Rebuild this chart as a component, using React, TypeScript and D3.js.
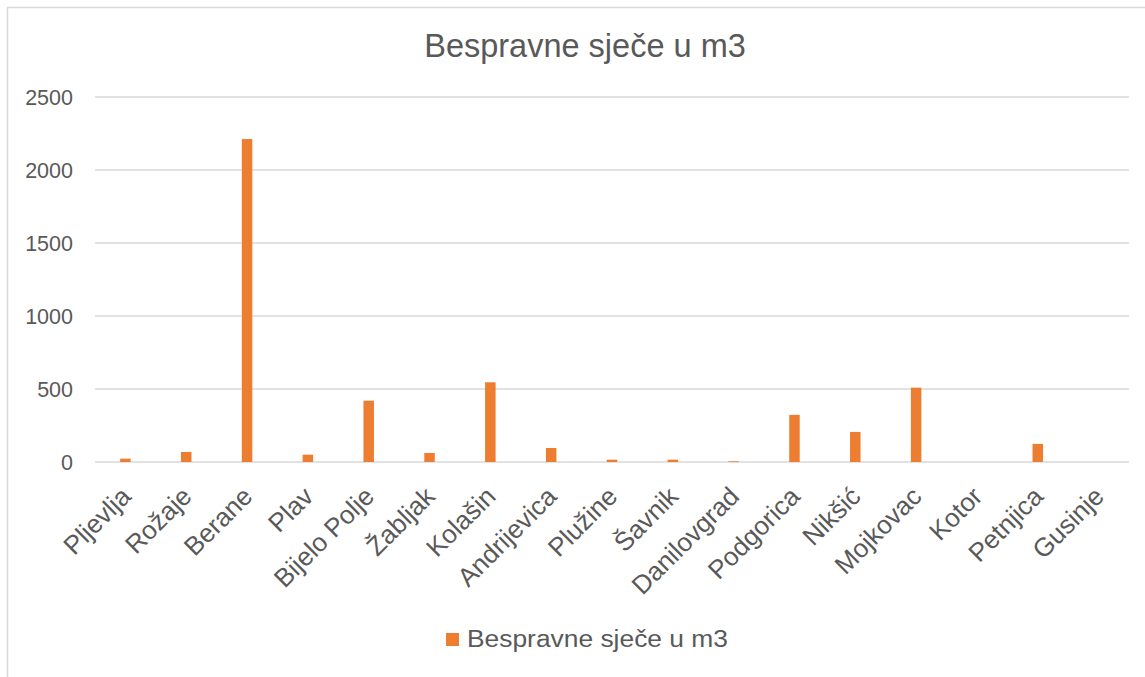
import React from "react";
import * as d3 from "d3";

const categories = [
  "Pljevlja", "Rožaje", "Berane", "Plav", "Bijelo Polje", "Žabljak", "Kolašin",
  "Andrijevica", "Plužine", "Šavnik", "Danilovgrad", "Podgorica", "Nikšić",
  "Mojkovac", "Kotor", "Petnjica", "Gusinje",
];
const values = [23, 69, 2212, 50, 420, 62, 546, 96, 16, 16, 5, 323, 206, 509, 0, 124, 0];
const yTicks = [0, 500, 1000, 1500, 2000, 2500];
const seriesName = "Bespravne sječe u m3";
const title = "Bespravne sječe u m3";

const W = 1145;
const H = 677;
const FONT = "'Liberation Sans', Arial, sans-serif";
const TEXT = "#595959";
const GRID = "#d9d9d9";
const ORANGE = "#ED7D31";

export default function App() {
  const x = d3.scaleBand<string>().domain(categories).range([95, 1129]);
  const y = d3.scaleLinear().domain([0, 2500]).range([462, 97]);
  const bw = 10.5;

  return (
    <svg
      width={W}
      height={H}
      style={{ position: "absolute", left: 0, top: 0, background: "#fff" }}
      fontFamily={FONT}
    >
      <rect x={7.5} y={7.5} width={1170} height={700} fill="#fff" stroke={GRID} strokeWidth={1.5} />
      <text x={585} y={57} textAnchor="middle" fontSize={32.5} fill={TEXT}>
        {title}
      </text>
      {yTicks.map((t) => (
        <g key={t}>
          <line x1={95} x2={1129} y1={y(t)} y2={y(t)} stroke={GRID} strokeWidth={1.5} />
          <text x={73} y={y(t)} dy="0.36em" textAnchor="end" fontSize={21.5} fill={TEXT}>
            {t}
          </text>
        </g>
      ))}
      {categories.map((c, i) => {
        const cx = (x(c) as number) + x.bandwidth() / 2;
        const v = values[i];
        return (
          <g key={c}>
            {v > 0 && (
              <rect x={cx - bw / 2} y={y(v)} width={bw} height={y(0) - y(v)} fill={ORANGE} />
            )}
            <text
              transform={`translate(${cx + 7},${498}) rotate(-45)`}
              textAnchor="end"
              fontSize={26}
              fill={TEXT}
            >
              {c}
            </text>
          </g>
        );
      })}
      <rect x={446} y={633} width={13} height={13} fill={ORANGE} />
      <text x={467} y={647} fontSize={23} textLength={261} lengthAdjust="spacingAndGlyphs" fill={TEXT}>
        {seriesName}
      </text>
    </svg>
  );
}
